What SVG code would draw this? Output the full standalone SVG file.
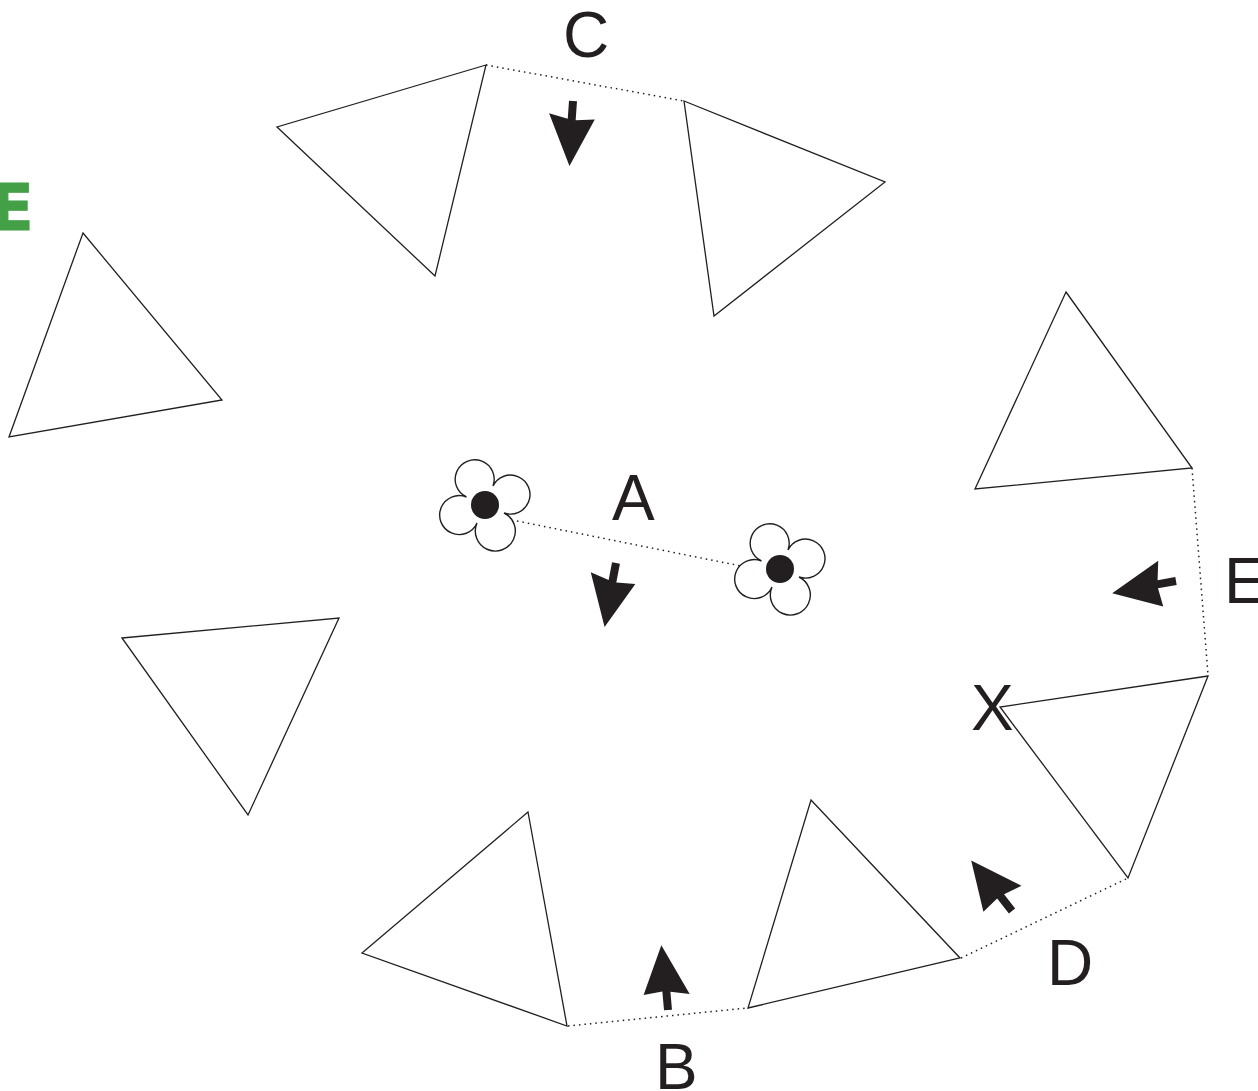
<svg xmlns="http://www.w3.org/2000/svg" width="1258" height="1091" viewBox="0 0 1258 1091">
<style>
.t{fill:none;stroke:#231f20;stroke-width:1.3;stroke-linejoin:miter}
.d{fill:none;stroke:#231f20;stroke-width:1.5;stroke-dasharray:1.5 4}
.l{font-family:"Liberation Sans",Arial,sans-serif;font-size:64px;fill:#231f20}
.a{fill:#231f20}
.p{fill:#fff;stroke:#231f20;stroke-width:1.4}
</style>
<defs>
<path id="arrow" class="a" d="M-4 0L4 0L4 -18L23 -14L-1 -65L-23 -17L-4 -19Z"/>
<g id="flower">
<path class="p" d="M-18.500 -8A19.500 19.500 0 1 1 8 -19A19.500 19.500 0 1 1 19 8A20 20 0 1 1 -8 18A19.500 19.500 0 1 1 -18.500 -8Z"/>
<circle class="a" cx="0" cy="0" r="14"/>
</g>
</defs>
<g id="connectors">
<line class="d" x1="486" y1="65" x2="684" y2="101"/>
<line class="d" x1="517" y1="521" x2="741" y2="566"/>
<line class="d" x1="1192" y1="468" x2="1208" y2="675"/>
<line class="d" x1="961" y1="958" x2="1128" y2="878"/>
<line class="d" x1="568" y1="1026" x2="747" y2="1008"/>
</g>
<g id="tri-1"><polygon class="t" points="486,65 277,127 435,276"/></g>
<g id="tri-2"><polygon class="t" points="684,101 885,182 714,316"/></g>
<g id="tri-3"><polygon class="t" points="83,233 222,400 9,437"/></g>
<g id="tri-4"><polygon class="t" points="1066,292 1192,468 975,489"/></g>
<g id="tri-5"><polygon class="t" points="122,638 339,618 248,815"/></g>
<g id="tri-6"><polygon class="t" points="1208,676 1000,707 1128,878"/></g>
<g id="tri-7"><polygon class="t" points="811,800 960,958 748,1008"/></g>
<g id="tri-8"><polygon class="t" points="528,812 567,1026 362,953"/></g>
<g id="flower-1"><use href="#flower" x="485" y="505"/></g>
<g id="flower-2"><use href="#flower" x="780" y="569"/></g>
<g id="arrow-c"><use href="#arrow" transform="translate(573 101) rotate(184)"/></g>
<g id="arrow-a"><use href="#arrow" transform="translate(616 563) rotate(191)"/></g>
<g id="arrow-e"><use href="#arrow" transform="translate(1176 581) rotate(-100)"/></g>
<g id="arrow-d"><use href="#arrow" transform="translate(1012 911) rotate(-38)"/></g>
<g id="arrow-b"><use href="#arrow" transform="translate(668 1010) rotate(-5)"/></g>
<g id="labels">
<text class="l" x="563" y="57">C</text>
<text class="l" x="612" y="520">A</text>
<text class="l" x="1224" y="603">E</text>
<text class="l" x="971" y="730">X</text>
<text class="l" x="1047" y="985">D</text>
<text class="l" x="655" y="1089">B</text>
<text x="-10" y="230" font-family="'DejaVu Sans',sans-serif" font-weight="bold" font-size="64" fill="#43a047" stroke="#43a047" stroke-width="1">E</text>
</g>
</svg>
